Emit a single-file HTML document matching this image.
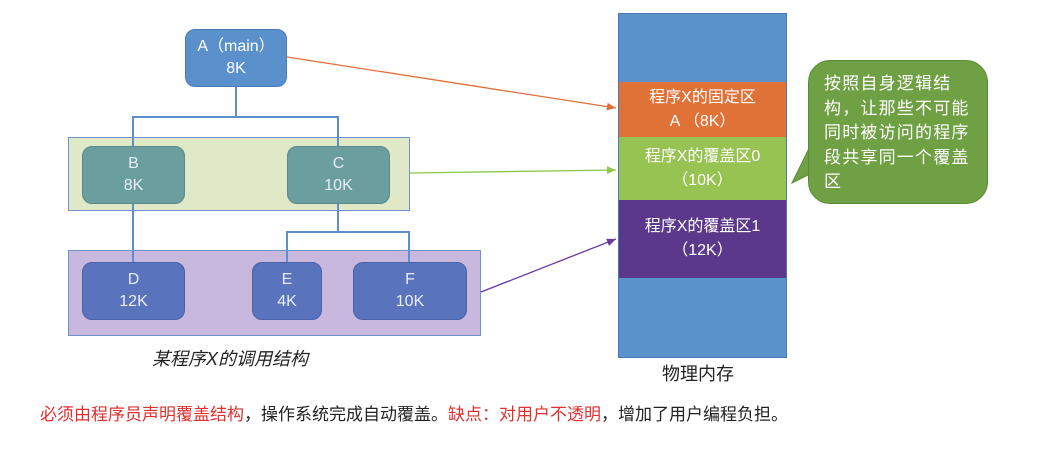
<!DOCTYPE html>
<html><head><meta charset="utf-8"><style>
body{margin:0;width:1040px;height:459px;background:#fff;position:relative;overflow:hidden;font-family:"Liberation Sans","Noto Sans CJK SC",sans-serif}
.a{position:absolute;box-sizing:border-box}
.n{position:absolute;box-sizing:border-box;border-radius:10px;color:#e8eef8;font-size:16px;line-height:22px;text-align:center;display:flex;flex-direction:column;justify-content:center}
.m{position:absolute;box-sizing:border-box;color:#fff;font-size:16px;line-height:24px;text-align:center;display:flex;flex-direction:column;justify-content:center}
</style></head><body>
<div class="a" style="left:68px;top:137px;width:342px;height:74px;background:#dfe9c8;border:1px solid #6f93c8"></div>
<div class="a" style="left:68px;top:250px;width:413px;height:86px;background:#c9b8dd;border:1px solid #6f93c8"></div>
<svg class="a" style="left:0;top:0" width="1040" height="459">
<defs>
<marker id="mo" markerWidth="8" markerHeight="8" refX="7" refY="4" orient="auto"><path d="M0,1 L7,4 L0,7z" fill="#e0703a"/></marker>
<marker id="mg" markerWidth="8" markerHeight="8" refX="7" refY="4" orient="auto"><path d="M0,1 L7,4 L0,7z" fill="#8cc84b"/></marker>
<marker id="mp" markerWidth="8" markerHeight="8" refX="7" refY="4" orient="auto"><path d="M0,1 L7,4 L0,7z" fill="#6a3aa0"/></marker>
</defs>
<g stroke="#5b8fd0" stroke-width="2" fill="none">
<path d="M236,87 V117 M133,146 V117 H338 V146 M133,204 V262 M338,204 V232 M287,262 V232 H409 V262"/>
</g>
<line x1="287" y1="57" x2="616" y2="108" stroke="#e0703a" stroke-width="1.3" marker-end="url(#mo)"/>
<line x1="410" y1="173" x2="616" y2="170" stroke="#8cc84b" stroke-width="1.3" marker-end="url(#mg)"/>
<line x1="481" y1="292" x2="616" y2="239" stroke="#6a3aa0" stroke-width="1.3" marker-end="url(#mp)"/>
<path d="M818,130 L792,183 L818,170z" fill="#70a044" stroke="#5a8a35"/>
</svg>
<div class="n" style="left:185px;top:29px;width:102px;height:58px;background:#5a90cc;border:1px solid #4a7ab5;color:#fff">A（main）<br>8K</div>
<div class="n" style="left:82px;top:146px;width:103px;height:58px;background:#6b9e9e;border:1px solid #5c8a8a">B<br>8K</div>
<div class="n" style="left:287px;top:146px;width:103px;height:58px;background:#6b9e9e;border:1px solid #5c8a8a">C<br>10K</div>
<div class="n" style="left:82px;top:262px;width:103px;height:58px;background:#5a73bd;border:1px solid #4a60a8">D<br>12K</div>
<div class="n" style="left:252px;top:262px;width:70px;height:58px;background:#5a73bd;border:1px solid #4a60a8">E<br>4K</div>
<div class="n" style="left:353px;top:262px;width:114px;height:58px;background:#5a73bd;border:1px solid #4a60a8">F<br>10K</div>
<div class="a" style="left:152px;top:345px;font-size:18px;font-style:italic;color:#222">某程序X的调用结构</div>
<div class="a" style="left:618px;top:13px;width:169px;height:345px;background:#5a93cc;border:1px solid #4a7ab5"></div>
<div class="m" style="left:619px;top:82px;width:167px;height:55px;background:#e07238">程序X的固定区<br>A （8K）</div>
<div class="m" style="left:619px;top:137px;width:167px;height:63px;background:#97c352">程序X的覆盖区0<br>（10K）</div>
<div class="m" style="left:619px;top:200px;width:167px;height:78px;background:#5c388c">程序X的覆盖区1<br>（12K）</div>
<div class="a" style="left:662px;top:360px;font-size:18px;color:#222">物理内存</div>
<div class="a" style="left:808px;top:60px;width:180px;height:144px;background:#70a044;border:1px solid #5a8a35;border-radius:22px;color:#fff;font-size:17px;line-height:24.5px;padding:11px 0 0 15px;letter-spacing:1.2px">按照自身逻辑结构，让那些不可能同时被访问的程序段共享同一个覆盖区</div>
<div class="a" style="left:40px;top:400px;font-size:17px;color:#222;white-space:nowrap"><span style="color:#e03030">必须由程序员声明覆盖结构</span>，操作系统完成自动覆盖。<span style="color:#e03030">缺点：对用户不透明</span>，增加了用户编程负担。</div>
</body></html>
